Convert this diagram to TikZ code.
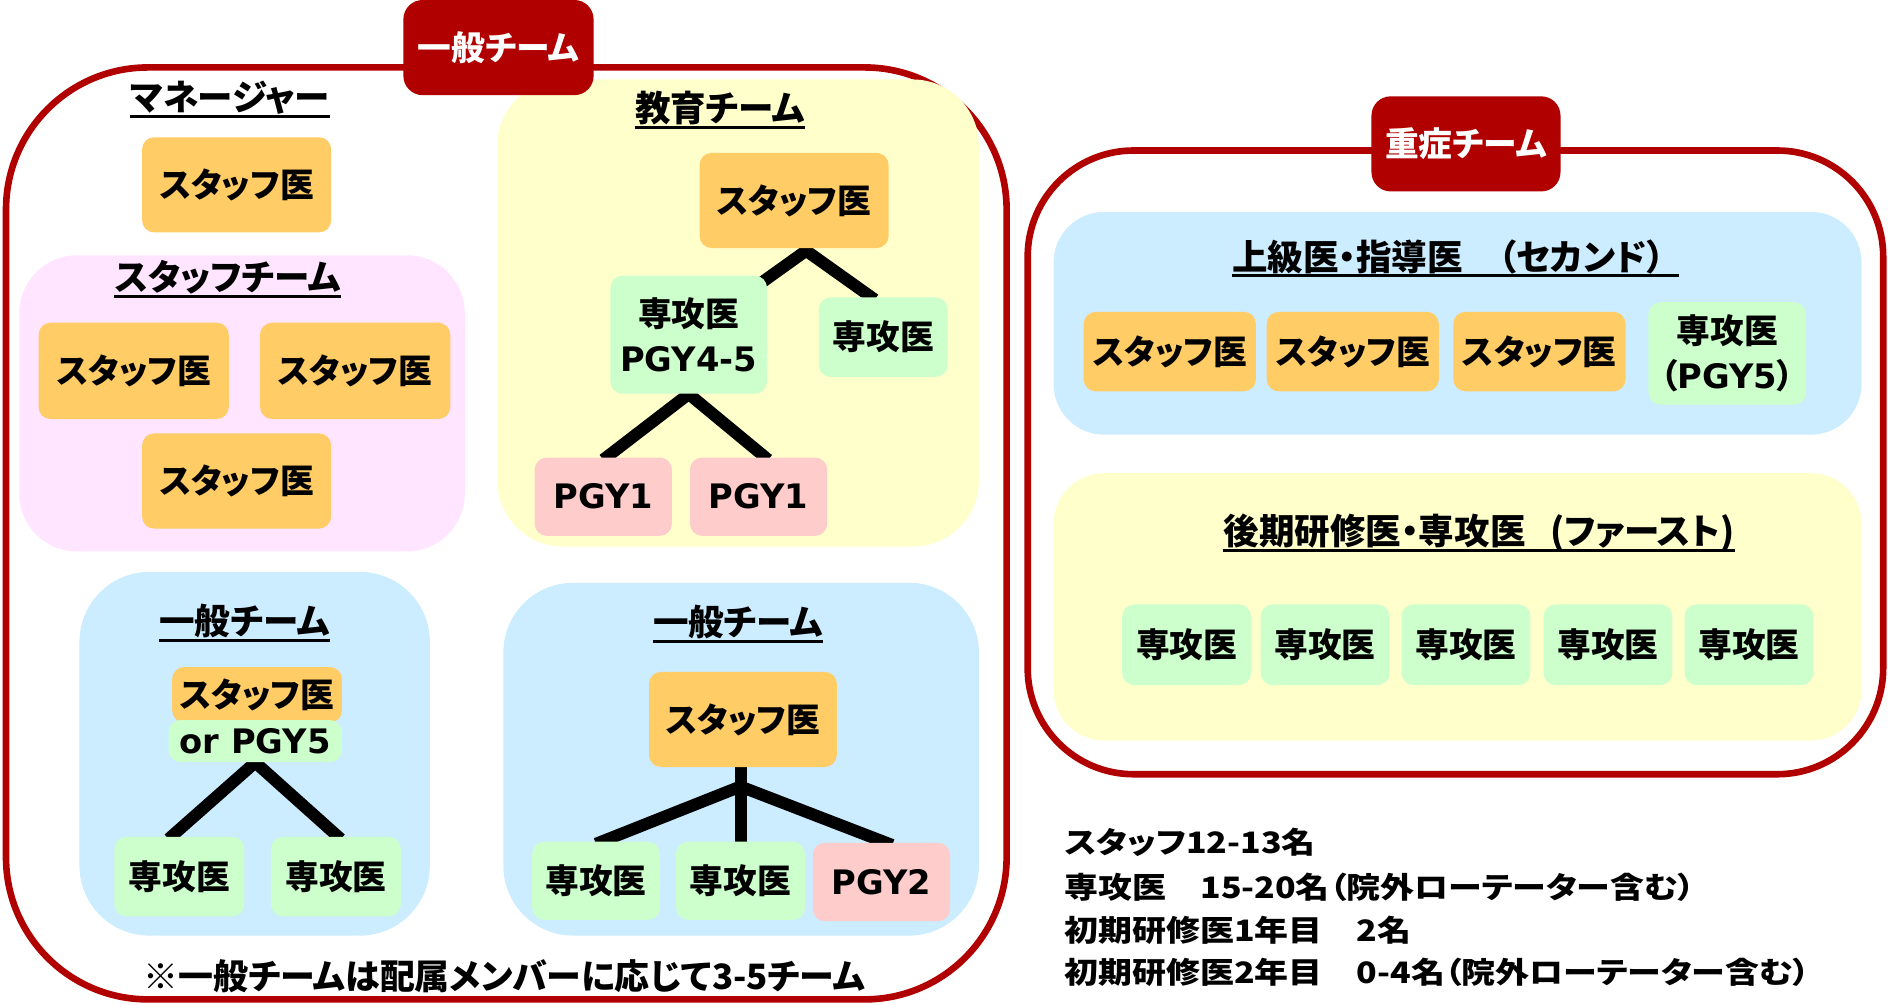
\documentclass[tikz,border=0pt]{standalone}
\usepackage{fontspec}
\setmainfont{Noto Sans CJK JP}[RawFeature=+palt]
\newfontfamily\lat{DejaVu Sans}
\newfontfamily\infofont{Noto Sans CJK JP}[RawFeature=+palt, FakeStretch=1.15]
\usetikzlibrary{calc}
\pgfdeclarelayer{panel}
\pgfdeclarelayer{link}
\pgfsetlayers{panel,link,main}
\definecolor{dred}{RGB}{176,0,0}
\definecolor{orng}{RGB}{255,204,102}
\definecolor{lgreen}{RGB}{204,255,204}
\definecolor{lpink}{RGB}{255,204,204}
\definecolor{lblue}{RGB}{204,236,255}
\definecolor{lyellow}{RGB}{255,255,204}
\definecolor{lmag}{RGB}{255,229,255}
\tikzset{
  sz/.style 2 args={minimum width=#1, minimum height=#2},
  box/.style={rounded corners=10pt, inner sep=0pt, align=center,
    font=\fontsize{28}{37}\selectfont\bfseries},
  staff/.style={box, fill=orng},
  senk/.style={box, fill=lgreen},
  pgy/.style={box, fill=lpink},
  pnl/.style={rounded corners=#1, inner sep=0pt},
  frame/.style={pnl=#1, draw=dred, line width=5.5pt},
  titlebox/.style={box, rounded corners=16pt, fill=dred, text=white},
  hd/.style={inner sep=0pt, anchor=base, font=\fontsize{29.5}{34}\selectfont\bfseries},
  ul/.style={line width=2.5pt},
  link/.style={line width=10pt, black},
  info/.style={inner sep=0pt, anchor=base west, font=\fontsize{24.5}{30}\infofont\bfseries},
}
\begin{document}
\begin{tikzpicture}[x=1pt,y=-1pt]
\useasboundingbox (0,0) rectangle (1568,834);

% ---------- panels ----------
\begin{pgfonlayer}{panel}
\node[frame=118, sz={831}{774}] (frameL) at (420.5,443) {};
\node[frame=88, sz={710.5}{518}] (frameR) at (1208.75,384) {};
\node[pnl=48, fill=lmag, sz={370}{246}] (pink) at (201,335) {};
\node[pnl=55, fill=lyellow, sz={400}{388}] (edu) at (613,260) {};
\node[pnl=58, fill=lblue, sz={291}{302}] (genA) at (211.5,626) {};
\node[pnl=58, fill=lblue, sz={395}{293}] (genB) at (615.5,630.5) {};
\node[pnl=42, fill=lblue, sz={671}{185}] (senior) at (1210.5,268.5) {};
\node[pnl=42, fill=lyellow, sz={671}{222}] (first) at (1210.5,504) {};
\end{pgfonlayer}

% ---------- titles ----------
\node[titlebox, sz={158}{79}] (t1) at (414,39.5) {一般チーム};
\node[titlebox, sz={157}{79}] (t2) at (1217.5,119.5) {重症チーム};

% ---------- headings ----------
\node[hd] (hM) at (191,92) {マネージャー};
\node[hd] (hS) at (189,241) {スタッフチーム};
\node[hd] (hE) at (598,101) {教育チーム};
\node[hd] (hA) at (203,527) {一般チーム};
\node[hd] (hB) at (613,528) {一般チーム};
\node[hd, anchor=base west] (hSen) at (1023,225) {上級医・指導医　（セカンド）};
\node[hd, anchor=base west] (hFir) at (1016,452) {後期研修医・専攻医\hspace{0.7em}(ファースト)};
\foreach \h in {hM,hS,hE,hA,hB,hFir}
  \draw[ul] ([yshift=-5pt]\h.base west) -- ([yshift=-5pt]\h.base east);
\draw[ul] ([yshift=-4pt]hSen.base west) -- ([xshift=12pt,yshift=-4pt]hSen.base east);

% ---------- manager & staff team ----------
\node[staff, sz={157}{79}] (m0) at (196.5,153.5) {スタッフ医};
\node[staff, sz={158}{80}] (p1) at (111,308) {スタッフ医};
\node[staff, sz={158}{80}] (p2) at (295,308) {スタッフ医};
\node[staff, sz={157}{79}] (p3) at (196.5,399.5) {スタッフ医};

% ---------- education team ----------
\node[staff, sz={157}{79}] (e0) at (659.5,166.5) {スタッフ医};
\node[senk, sz={130}{98}] (e1) at (572,278) {専攻医\\{\lat PGY4-5}};
\node[senk, sz={107}{66}] (e2) at (733.5,280) {専攻医};
\node[pgy, sz={114}{65}] (e3) at (501,412.5) {\lat PGY1};
\node[pgy, sz={114}{65}] (e4) at (630,412.5) {\lat PGY1};

% ---------- general team A ----------
\node[staff, sz={141}{46}] (ga0) at (213.5,577) {スタッフ医};
\node[senk, sz={144}{35}] (ga0b) at (212,615.5) {\lat or PGY5};
\node[senk, sz={108}{66}] (ga1) at (149,728) {専攻医};
\node[senk, sz={108}{66}] (ga2) at (279,728) {専攻医};

% ---------- general team B ----------
\node[staff, sz={156}{79}] (gb0) at (617,597.5) {スタッフ医};
\node[senk, sz={106}{65}] (gb1) at (495,731.5) {専攻医};
\node[senk, sz={107}{65}] (gb2) at (615,731.5) {専攻医};
\node[pgy, sz={114}{65}] (gb3) at (732,732.5) {\lat PGY2};

% ---------- severe team ----------
\node[staff, sz={143}{66}] (s1) at (971.5,292) {スタッフ医};
\node[staff, sz={143}{66}] (s2) at (1123.5,292) {スタッフ医};
\node[staff, sz={143}{66}] (s3) at (1278.5,292) {スタッフ医};
\node[senk, sz={131}{85}] (s4) at (1434.5,293.5) {専攻医\\（{\lat PGY5}）};
\node[senk, sz={107}{67}] (f1) at (985.5,535.5) {専攻医};
\node[senk, sz={107}{67}] (f2) at (1100.5,535.5) {専攻医};
\node[senk, sz={107}{67}] (f3) at (1217.5,535.5) {専攻医};
\node[senk, sz={107}{67}] (f4) at (1335.5,535.5) {専攻医};
\node[senk, sz={107}{67}] (f5) at (1452.5,535.5) {専攻医};

% ---------- notes ----------
\node[hd, anchor=base west, font=\fontsize{29}{32}\selectfont\bfseries] (note) at (119,822) {※一般チームは配属メンバーに応じて3-5チーム};
\node[info] (r1) at (884,709) {スタッフ12-13名};
\node[info] (r2) at (884,746) {専攻医　15-20名（院外ローテーター含む）};
\node[info] (r3) at (884,782) {初期研修医1年目　2名};
\node[info] (r4) at (884,817) {初期研修医2年目　0-4名（院外ローテーター含む）};

% ---------- connectors ----------
\begin{pgfonlayer}{link}
\coordinate (apE) at ($(e0.south)+(10,2)$);
\draw[link] (e1.center) -- (apE) -- ($(e2.north)+(-7,2)$);
\draw[link] ($(e3.north)+(0,2)$) -- (e1.south) -- ($(e4.north)+(8,2)$);
\draw[link] ($(ga1.north)+(-9,2)$) -- (ga0b.south) -- ($(ga2.north)+(4,2)$);
\coordinate (jB) at ($(gb0.south -| gb2.north)+(0,16)$);
\draw[link] (gb0.south -| gb2.north) -- ($(gb2.north)+(0,2)$);
\draw[link] ($(gb1.north)+(0,2)$) -- (jB) -- ($(gb3.north)+(9,2)$);
\end{pgfonlayer}
\end{tikzpicture}
\end{document}
